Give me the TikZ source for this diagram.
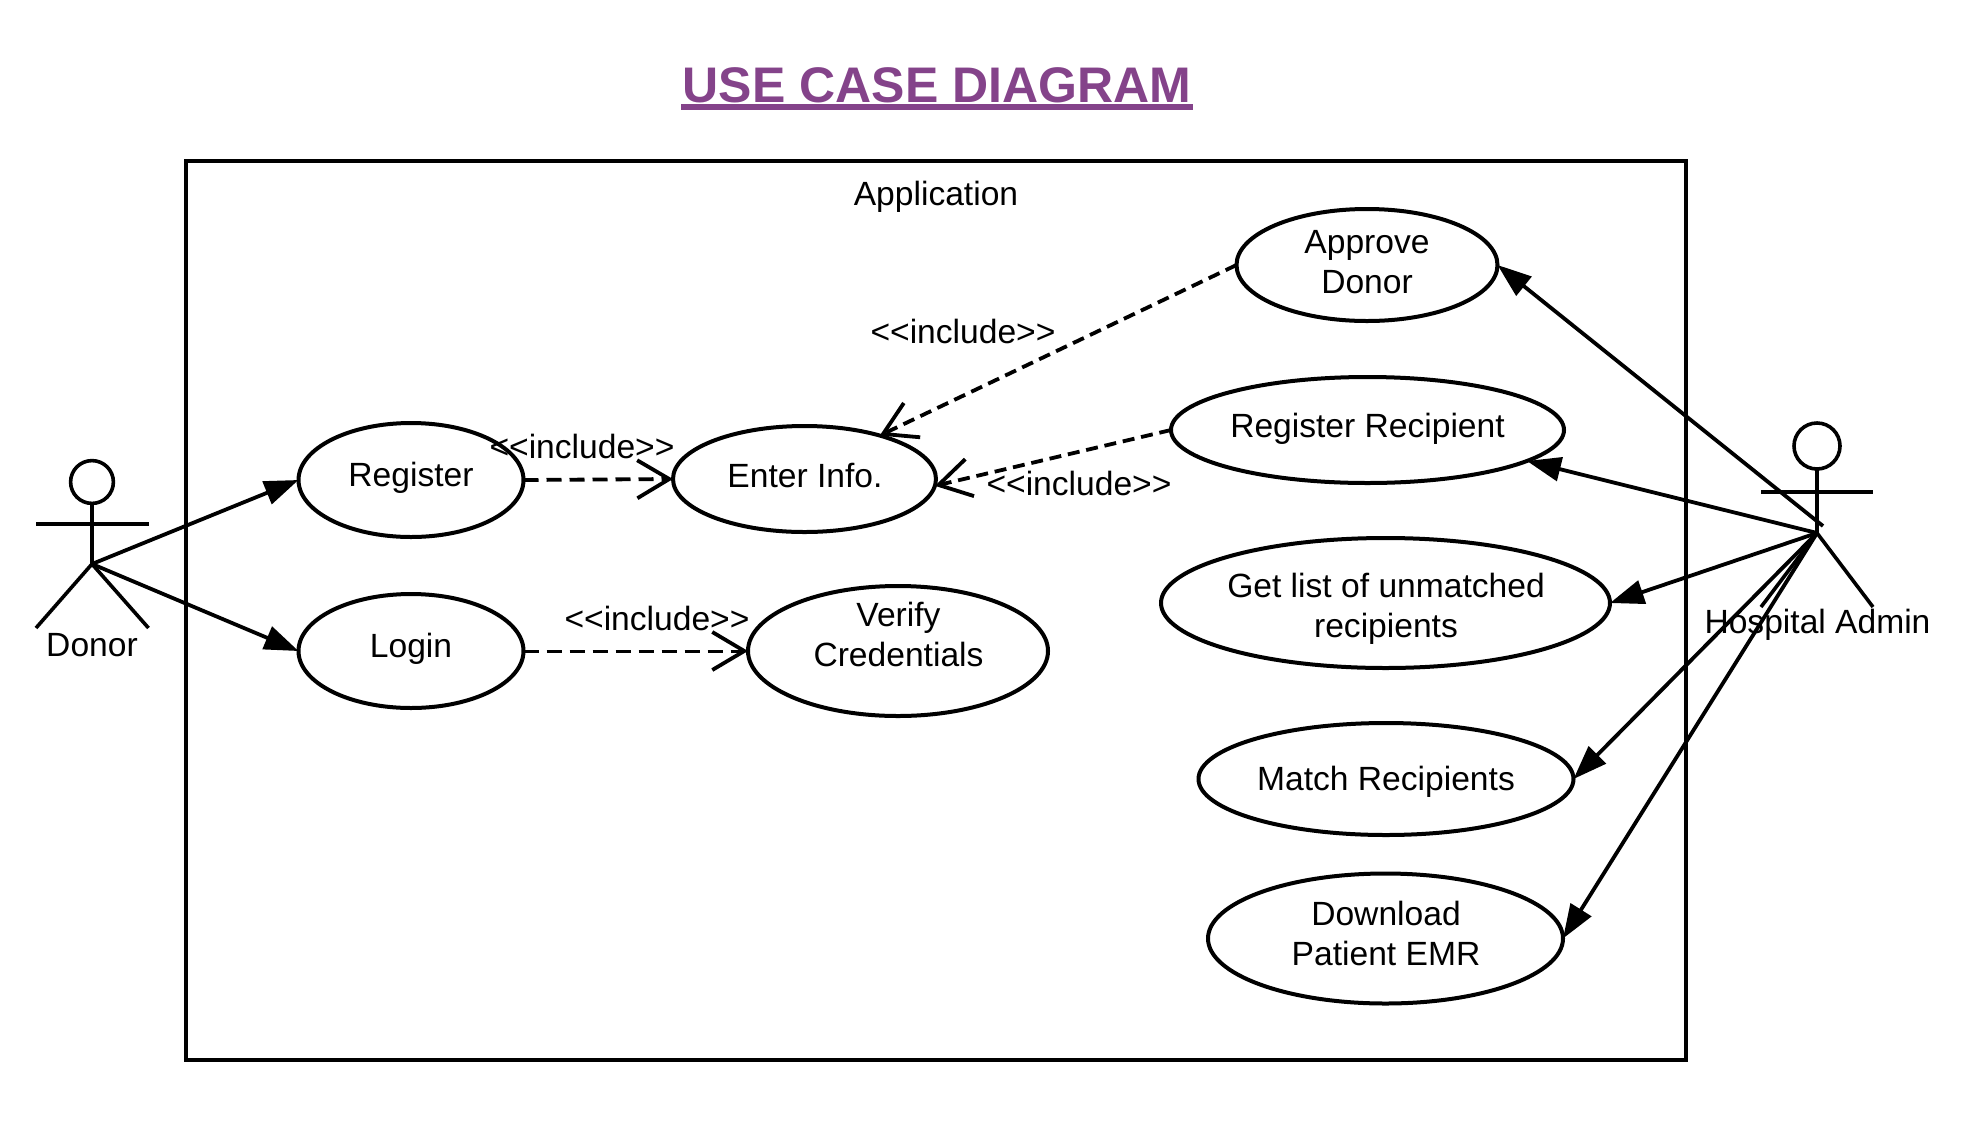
\documentclass[tikz,border=0pt]{standalone}
\usepackage{fontspec}
\setmainfont{Liberation Sans}
\usetikzlibrary{arrows.meta,shapes.geometric}
\definecolor{titlecol}{HTML}{84438A}
\tikzset{
  x=0.5pt,y=-0.5pt,
  every node/.style={inner sep=0pt,outer sep=0pt},
  txt/.style={font=\fontsize{16.8}{20}\selectfont,align=center,text=black},
  uc/.style 2 args={ellipse,draw=black,line width=2pt,minimum width=#1pt,minimum height=#2pt},
  assoc/.style={draw=black,line width=1.9pt,-{Triangle[length=17pt,width=12pt]}},
  incl/.style={draw=black,line width=1.9pt,dash pattern=on 6pt off 3.4pt,-{Straight Barb[length=16pt,width=19pt,line width=1.9pt]}},
  inclh/.style={incl,dash pattern=on 7.5pt off 4pt},
  inclthin/.style={inclh,line width=1.5pt},
  actor/.style={draw=black,line width=1.8pt},
}
\begin{document}
\begin{tikzpicture}
\useasboundingbox (0,0) rectangle (1976,1136);
% title
\node[font=\bfseries\fontsize{25}{28}\selectfont,text=titlecol] (title) at (937,85) {USE CASE DIAGRAM};
\coordinate (ulL) at (681,107);
\coordinate (ulR) at (1193,107);
\draw[titlecol,line width=3pt] (ulL) -- (ulR);
% system box
\node[draw=black,line width=1.9pt,minimum width=750pt,minimum height=449.5pt,anchor=north west] (app) at (186,161) {};
\node[txt] (apptext) at (936,197) {Application};
% use cases
\node[uc={130.5}{56}] (approve) at (1367,265) {};
\node[txt] (approvet) at (1367,262) {Approve\\Donor};
\node[uc={196.5}{53}] (rr) at (1367.5,430) {};
\node[txt] (rrt) at (1367.5,429) {Register Recipient};
\node[uc={224.5}{65}] (gl) at (1385.5,603) {};
\node[txt] (glt) at (1386,609) {Get list of unmatched\\recipients};
\node[uc={187.5}{56}] (match) at (1386,779) {};
\node[txt] (matcht) at (1386,782) {Match Recipients};
\node[uc={177.5}{65}] (dl) at (1385.5,938.5) {};
\node[txt] (dlt) at (1386,933) {Download\\Patient EMR};
\node[uc={112.5}{57}] (reg) at (411,480) {};
\node[txt] (regt) at (411,478) {Register};
\node[uc={112.5}{57}] (login) at (411,651) {};
\node[txt] (logint) at (411,649) {Login};
\node[uc={131.5}{53}] (enter) at (804.5,479) {};
\node[txt] (entert) at (805,475) {Enter Info.};
\node[uc={150}{65}] (verify) at (898,651) {};
\node[txt] (verifyt) at (898.5,634) {Verify\\Credentials};
% donor actor
\node[circle,draw=black,line width=1.8pt,minimum size=21.4pt] (dhead) at (92,482) {};
\coordinate (dhip) at (92,564);
\coordinate (dl1) at (36,524);\coordinate (dr1) at (148.5,524);
\coordinate (dl2) at (36,628);\coordinate (dr2) at (148.5,628);
\draw[actor] (dhead.south) -- (dhip);
\draw[actor] (dl1) -- (dr1);
\draw[actor] (dl2) -- (dhip) -- (dr2);
\node[txt] (donor) at (92,645) {Donor};
% hospital admin actor
\node[circle,draw=black,line width=1.8pt,minimum size=23pt] (hhead) at (1817,446) {};
\coordinate (hhip) at (1817,533);
\coordinate (hl1) at (1761,492);\coordinate (hr1) at (1873,492);
\coordinate (hl2) at (1761,607);\coordinate (hr2) at (1873,607);
\coordinate (hstart) at (1823,526);
\draw[actor] (hhead.south) -- (hhip);
\draw[actor] (hl1) -- (hr1);
\draw[actor] (hl2) -- (hhip) -- (hr2);
\node[txt] (hadmin) at (1817.5,625) {Hospital Admin};
% associations
\draw[assoc] (dhip) -- (reg.west);
\draw[assoc] (dhip) -- (login.west);
\draw[assoc] (hstart) -- (approve.east);
\draw[assoc] (hhip) -- (rr.-11.2);
\draw[assoc] (hhip) -- (gl.east);
\draw[assoc] (hhip) -- (match.east);
\draw[assoc] (hhip) -- (dl.east);
% includes
\draw[inclh] (reg.east) -- (enter.west);
\draw[inclthin] (login.east) -- (verify.west);
\draw[incl] (approve.west) -- (enter.30.4);
\draw[incl] (rr.west) -- (enter.-3);
\node[txt] (i1) at (582,446) {<{}<include>{}>};
\node[txt] (i2) at (657,618) {<{}<include>{}>};
\node[txt] (i3) at (963,331) {<{}<include>{}>};
\node[txt] (i4) at (1079,483) {<{}<include>{}>};
\end{tikzpicture}
\end{document}
